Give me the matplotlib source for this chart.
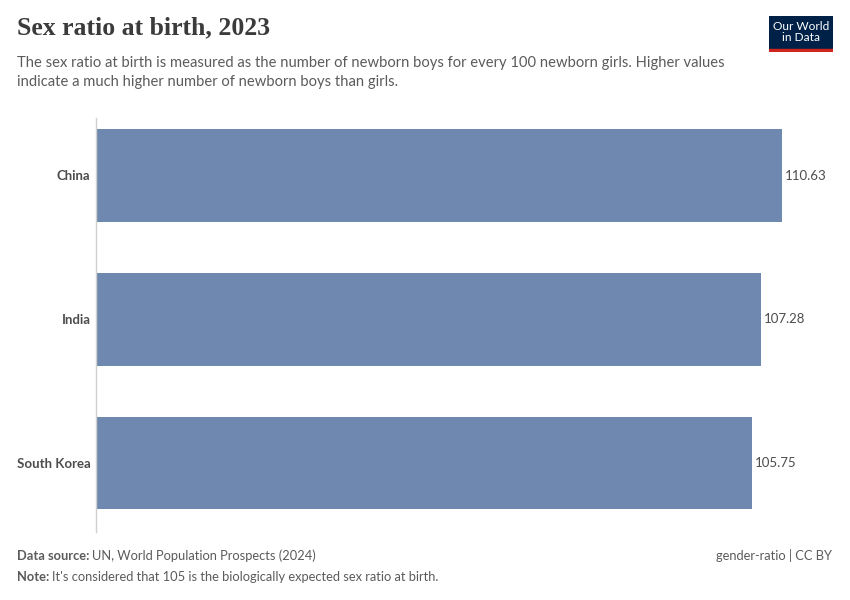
import matplotlib
matplotlib.use('Agg')
import matplotlib.pyplot as plt
from matplotlib.patches import Rectangle

countries = ['China', 'India', 'South Korea']
values = [110.63, 107.28, 105.75]

bar_color = '#6f88b0'
text_dark = '#4d4d4d'
text_grey = '#5b5b5b'

fig = plt.figure(figsize=(8.5, 6), dpi=100)
fig.patch.set_facecolor('white')

ax = fig.add_axes([96 / 850, 1 - 532 / 600, (832 - 96) / 850, (532 - 118) / 600])
ypos = list(range(len(countries)))
ax.barh(ypos, values, height=0.645, color=bar_color, zorder=2)
ax.set_xlim(0, 118.7)
ax.set_ylim(2.48, -0.4)

for y, v in zip(ypos, values):
    ax.text(v + 0.45, y, f'{v:.2f}', va='center', ha='left',
            fontsize=9.5, color=text_dark, family='Lato')

ax.set_yticks(ypos)
ax.set_yticklabels(countries, fontsize=9.5, color=text_dark,
                   family='Lato', fontweight='bold')
ax.tick_params(axis='y', length=0, pad=4)
ax.set_xticks([])
for s in ['top', 'right', 'bottom']:
    ax.spines[s].set_visible(False)
ax.spines['left'].set_color('#d0d0d0')
ax.spines['left'].set_linewidth(1)

# title and subtitle
fig.text(17 / 850, 1 - 34 / 600, 'Sex ratio at birth, 2023', fontsize=18.5,
         fontweight='bold', family='Liberation Serif', color='#3b3b3b',
         va='baseline')
fig.text(17 / 850, 1 - 67 / 600,
         'The sex ratio at birth is measured as the number of newborn boys for every 100 newborn girls. Higher values',
         fontsize=10.65, family='Lato', color=text_grey, va='baseline')
fig.text(17 / 850, 1 - 86 / 600,
         'indicate a much higher number of newborn boys than girls.',
         fontsize=10.65, family='Lato', color=text_grey, va='baseline')


def label_pair(y, bold, rest):
    t = fig.text(17 / 850, y, bold, fontsize=9.3, family='Lato',
                 fontweight='bold', color=text_grey, va='baseline')
    fig.canvas.draw()
    bb = t.get_window_extent()
    fig.text((bb.x1 + 3) / 850, y, rest, fontsize=9.3, family='Lato',
             color=text_grey, va='baseline')


# footer
label_pair(1 - 560 / 600, 'Data source:', 'UN, World Population Prospects (2024)')
label_pair(1 - 581 / 600, 'Note:',
           "It's considered that 105 is the biologically expected sex ratio at birth.")
fig.text(832 / 850, 1 - 560 / 600, 'gender-ratio | CC BY', fontsize=9.3,
         family='Lato', color=text_grey, va='baseline', ha='right')

# logo
logo = fig.add_axes([769 / 850, 1 - 52 / 600, 64 / 850, 36 / 600])
logo.set_xlim(0, 1)
logo.set_ylim(0, 1)
logo.axis('off')
logo.add_patch(Rectangle((0, 0), 1, 1, color='#002147'))
logo.add_patch(Rectangle((0, 0), 1, 0.08, color='#ce261e'))
logo.text(0.5, 0.55, 'Our World\nin Data', ha='center', va='center',
          fontsize=8.6, color='white', family='Lato', linespacing=1.0)

plt.savefig('out.png', dpi=100, facecolor='white')
plt.close()
